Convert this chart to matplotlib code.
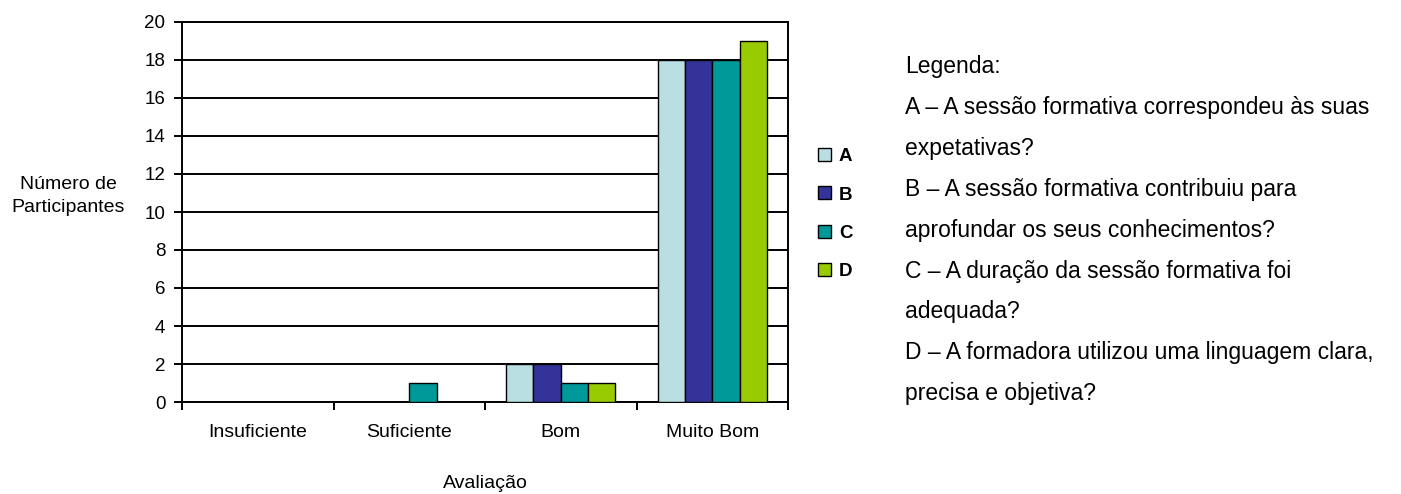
import matplotlib
matplotlib.use("Agg")
import matplotlib.pyplot as plt
from matplotlib.ticker import FixedLocator, NullFormatter
import numpy as np

plt.rcParams['font.family'] = ['Liberation Sans', 'DejaVu Sans']

categories = ["Insuficiente", "Suficiente", "Bom", "Muito Bom"]
series_names = ["A", "B", "C", "D"]
values_A = [0, 0, 2, 18]
values_B = [0, 0, 2, 18]
values_C = [0, 1, 1, 18]
values_D = [0, 0, 1, 19]
colors = ["#B9DFE2", "#333399", "#009999", "#99CC00"]
y_ticks = list(range(0, 21, 2))

legend_lines = [
    "Legenda:",
    "A \u2013 A sessão formativa correspondeu às suas",
    "expetativas?",
    "B \u2013 A sessão formativa contribuiu para",
    "aprofundar os seus conhecimentos?",
    "C \u2013 A duração da sessão formativa foi",
    "adequada?",
    "D \u2013 A formadora utilizou uma linguagem clara,",
    "precisa e objetiva?",
]

W, H = 1401, 494
fig = plt.figure(figsize=(W / 100, H / 100), dpi=100)
ax = fig.add_axes([182 / W, 1 - 402 / H, (788 - 182) / W, (402 - 22) / H])

x = np.arange(len(categories))
width = 0.18
series = [values_A, values_B, values_C, values_D]
handles = []
for i, (vals, col, name) in enumerate(zip(series, colors, series_names)):
    offs = (i - 1.5) * width
    b = ax.bar(x + offs, vals, width, color=col, edgecolor="black",
               linewidth=1.0, zorder=3, label=name)
    handles.append(b)

ax.set_xlim(-0.5, len(categories) - 0.5)
ax.set_ylim(0, 20)
ax.set_yticks(y_ticks)
ax.yaxis.grid(True, color="black", linewidth=1.4, zorder=0)
ax.set_axisbelow(True)

# tick marks sit on the category boundaries, labels at the centers
ax.xaxis.set_major_locator(FixedLocator(np.arange(-0.5, len(categories), 1.0)))
ax.xaxis.set_major_formatter(NullFormatter())
ax.xaxis.set_minor_locator(FixedLocator(x))
ax.set_xticklabels(categories, minor=True)
ax.tick_params(axis="x", which="major", direction="out", length=6, width=1.4)
ax.tick_params(axis="x", which="minor", length=0, pad=16, labelsize=14)
ax.tick_params(axis="y", direction="out", length=6, width=1.4,
               labelsize=13.5, pad=6)

for s in ax.spines.values():
    s.set_linewidth(1.4)
    s.set_color("black")

ax.set_ylabel("Número de\nParticipantes", rotation=0, ha="center", va="center",
              fontsize=14, linespacing=1.45)
ax.yaxis.set_label_coords((68 - 182) / 606, (402 - 196) / 380)
ax.set_xlabel("Avaliação", fontsize=14, va="top")
ax.xaxis.set_label_coords(0.5, (402 - 475) / 380)

fig.legend(handles=handles, labels=series_names, loc="upper left",
           bbox_to_anchor=(818 / W, 1 - 148 / H), frameon=False,
           prop={"weight": "bold", "size": 13.5},
           handlelength=0.69, handleheight=0.69, handletextpad=0.43,
           labelspacing=1.14, borderpad=0, borderaxespad=0)

for k, line in enumerate(legend_lines):
    y_px = 73 + 40.9 * k
    fig.text(905 / W, 1 - y_px / H, line, fontsize=16.5,
             ha="left", va="baseline")

fig.savefig("out.png", dpi=100)
